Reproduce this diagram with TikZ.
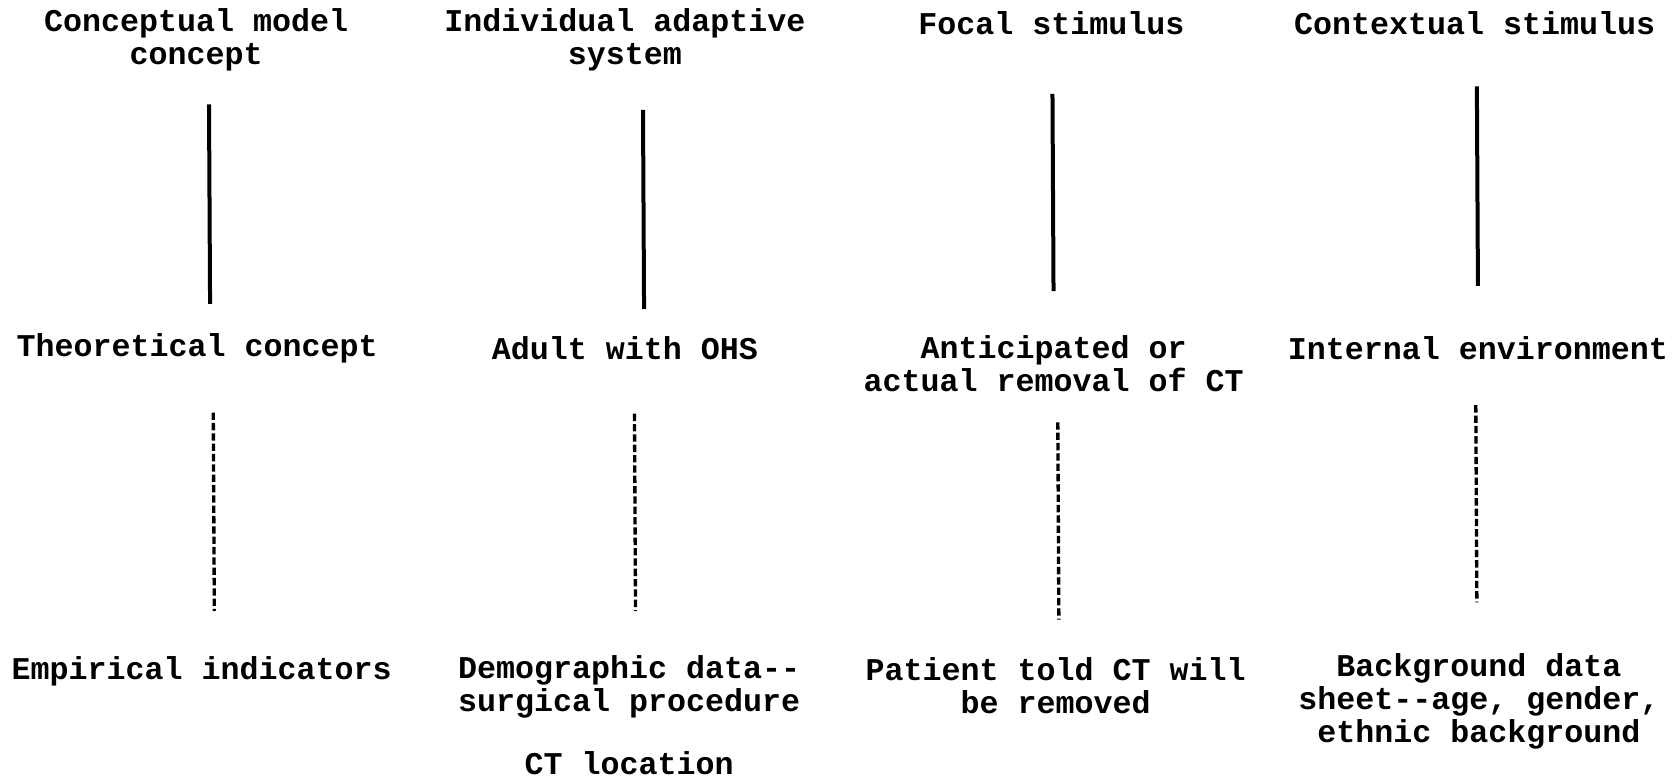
\documentclass[tikz,border=0pt]{standalone}
\usepackage{fontspec}
\setmonofont{Liberation Mono}
\tikzset{
  lbl/.style={font=\ttfamily\bfseries\fontsize{9.5}{9.9}\selectfont, align=center, inner sep=0pt},
  solidlink/.style={line width=1.2pt},
  dashlink/.style={line width=1pt, dash pattern=on 2.2pt off 0.9pt}
}
\begin{document}
\begin{tikzpicture}[x=0.3199pt,y=-0.3199pt]
\useasboundingbox (0,0) rectangle (1568,731);
% row 1
\node[lbl] (c1) at (184,37) {Conceptual model\\concept};
\node[lbl] (i1) at (586,37) {Individual adaptive\\system};
\node[lbl] (f1) at (986,22) {Focal stimulus};
\node[lbl] (x1) at (1383,22) {Contextual stimulus};
% row 2
\node[lbl] (c2) at (185,327) {Theoretical concept};
\node[lbl] (i2) at (586,327) {Adult with OHS};
\node[lbl] (f2) at (988,341) {Anticipated or\\actual removal of CT};
\node[lbl] (x2) at (1386,327) {Internal environment};
% row 3
\node[lbl] (c3) at (189,630) {Empirical indicators};
\node[lbl] (i3) at (590,644) {Demographic data--\\surgical procedure};
\node[lbl] (i4) at (590,716) {CT location};
\node[lbl] (f3) at (990,643) {Patient told CT will\\be removed};
\node[lbl] (x3) at (1387,658) {Background data\\sheet--age, gender,\\ethnic background};
% line ends
\coordinate (c1a) at (196,98);  \coordinate (c1b) at (197,285);
\coordinate (i1a) at (603,103); \coordinate (i1b) at (604,290);
\coordinate (f1a) at (987,88);  \coordinate (f1b) at (988,273);
\coordinate (x1a) at (1385,81); \coordinate (x1b) at (1386,268);
\coordinate (c2a) at (200,387); \coordinate (c2b) at (201,573);
\coordinate (i2a) at (595,388); \coordinate (i2b) at (596,573);
\coordinate (f2a) at (992,396); \coordinate (f2b) at (993,581);
\coordinate (x2a) at (1384,380); \coordinate (x2b) at (1385,565);
\draw[solidlink] (c1a) -- (c1b);
\draw[solidlink] (i1a) -- (i1b);
\draw[solidlink] (f1a) -- (f1b);
\draw[solidlink] (x1a) -- (x1b);
\draw[dashlink] (c2a) -- (c2b);
\draw[dashlink] (i2a) -- (i2b);
\draw[dashlink] (f2a) -- (f2b);
\draw[dashlink] (x2a) -- (x2b);
\end{tikzpicture}
\end{document}
